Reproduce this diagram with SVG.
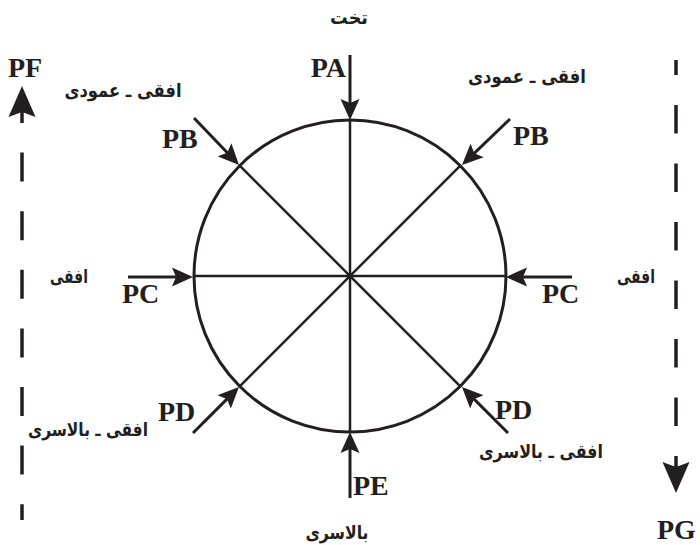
<svg xmlns="http://www.w3.org/2000/svg" width="700" height="545" viewBox="0 0 700 545">
<style>
.ln{stroke:#231f20;fill:none}
.lat{font-family:"Liberation Serif","Times New Roman",serif;font-weight:bold;font-size:28px;fill:#231f20}
.fa{font-family:"DejaVu Sans",sans-serif;font-weight:bold;font-size:19px;fill:#231f20;text-anchor:middle}
</style>
<defs>
<marker id="ah" markerUnits="userSpaceOnUse" viewBox="0 -10 22 20" refX="11" refY="0" markerWidth="22" markerHeight="20" orient="auto">
<path d="M21,0 L0,-9.5 L4,0 L0,9.5 Z" fill="#231f20"/>
</marker>
<marker id="big" markerUnits="userSpaceOnUse" viewBox="0 -14 32 28" refX="16" refY="0" markerWidth="32" markerHeight="28" orient="auto">
<path d="M31,0 L0,-13.5 L5,0 L0,13.5 Z" fill="#231f20"/>
</marker>
</defs>
<rect width="700" height="545" fill="#ffffff"/>
<g id="wheel">
<circle class="ln" cx="350" cy="276" r="156" stroke-width="3"/>
<line class="ln" x1="350" y1="120" x2="350" y2="432" stroke-width="2.5"/>
<line class="ln" x1="194" y1="276" x2="506" y2="276" stroke-width="2.5"/>
<line class="ln" x1="239.7" y1="165.7" x2="460.3" y2="386.3" stroke-width="2.5"/>
<line class="ln" x1="460.3" y1="165.7" x2="239.7" y2="386.3" stroke-width="2.5"/>
</g>
<g id="connectors" class="ln" stroke-width="3">
<line x1="350" y1="55" x2="350" y2="110" marker-end="url(#ah)"/>
<line x1="194" y1="118" x2="232.1" y2="157.8" marker-end="url(#ah)"/>
<line x1="510" y1="119" x2="469.2" y2="158.1" marker-end="url(#ah)"/>
<line x1="128" y1="277" x2="183" y2="277" marker-end="url(#ah)"/>
<line x1="572" y1="277" x2="516" y2="277" marker-end="url(#ah)"/>
<line x1="193" y1="433" x2="231.9" y2="394.1" marker-end="url(#ah)"/>
<line x1="508" y1="433" x2="469.1" y2="394.1" marker-end="url(#ah)"/>
<line x1="350" y1="498" x2="350" y2="442" marker-end="url(#ah)"/>
<line x1="22" y1="123" x2="22" y2="101" stroke-width="3.5" marker-end="url(#big)"/>
<line x1="22" y1="152.6" x2="22" y2="520" stroke-width="3.5" stroke-dasharray="29 29.6"/>
<line x1="676" y1="60" x2="676" y2="426" stroke-width="3.5" stroke-dasharray="28.5 30" stroke-dashoffset="13.5"/>
<line x1="676" y1="456" x2="676" y2="478" stroke-width="3.5" marker-end="url(#big)"/>
</g>
<g id="PA"><text class="lat" x="346" y="77" text-anchor="end">PA</text><text class="fa" x="349" y="24" textLength="38" lengthAdjust="spacingAndGlyphs">تخت</text></g>
<g id="PB-left"><text class="lat" x="162" y="148">PB</text><text class="fa" x="123" y="97" textLength="117" lengthAdjust="spacingAndGlyphs">افقی ـ عمودی</text></g>
<g id="PB-right"><text class="lat" x="513" y="145">PB</text><text class="fa" x="527" y="83" textLength="118" lengthAdjust="spacingAndGlyphs">افقی ـ عمودی</text></g>
<g id="PC-left"><text class="lat" x="122" y="303">PC</text><text class="fa" x="69" y="283" textLength="38" lengthAdjust="spacingAndGlyphs">افقی</text></g>
<g id="PC-right"><text class="lat" x="542" y="303">PC</text><text class="fa" x="636" y="283" textLength="38" lengthAdjust="spacingAndGlyphs">افقی</text></g>
<g id="PD-left"><text class="lat" x="158" y="421">PD</text><text class="fa" x="88" y="436" font-size="16" textLength="120" lengthAdjust="spacingAndGlyphs">افقی ـ بالاسری</text></g>
<g id="PD-right"><text class="lat" x="495" y="419">PD</text><text class="fa" x="541" y="458" textLength="124" lengthAdjust="spacingAndGlyphs">افقی ـ بالاسری</text></g>
<g id="PE"><text class="lat" x="353" y="495">PE</text><text class="fa" x="337" y="539" textLength="63" lengthAdjust="spacingAndGlyphs">بالاسری</text></g>
<g id="PF"><text class="lat" x="8" y="77">PF</text></g>
<g id="PG"><text class="lat" x="657" y="539">PG</text></g>
</svg>
